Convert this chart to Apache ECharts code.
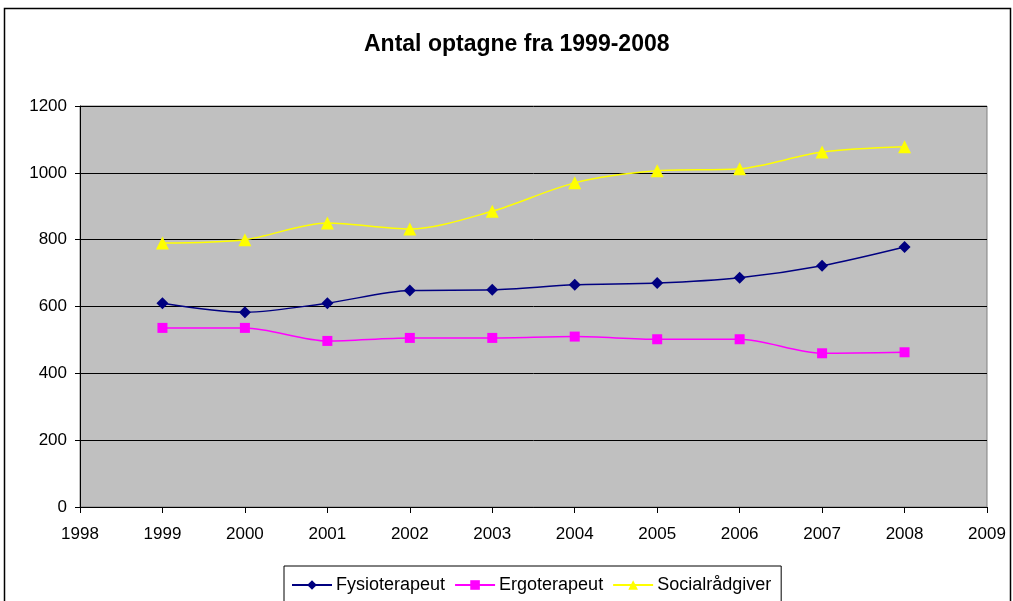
<!DOCTYPE html>
<html><head><meta charset="utf-8">
<script src="https://cdn.jsdelivr.net/npm/echarts@6/dist/echarts.min.js"></script>
<style>html,body{margin:0;padding:0;background:#fff}#c{width:1013px;height:601px}</style>
</head><body><div id="c"></div>
<script>
const years = [1999,2000,2001,2002,2003,2004,2005,2006,2007,2008];
const fysioterapeut = [610,583,610,648,650,665,670,686,722,778];
const ergoterapeut = [536,536,497,506,506,510,502,502,460,463];
const socialraadgiver = [790,800,850,832,885,970,1006,1012,1062,1078];
const seriesNames = ['Fysioterapeut','Ergoterapeut','Socialrådgiver'];

const pairs = arr => years.map((y,i)=>[y,arr[i]]);
const chart = echarts.init(document.getElementById('c'));
const font = 'Liberation Sans, Arial, sans-serif';
chart.setOption({
  animation:false,
  textStyle:{fontFamily:font},
  title:{text:'Antal optagne fra 1999-2008',left:364,top:33,padding:0,
    textStyle:{fontSize:23,fontWeight:'bold',color:'#000',fontFamily:font}},
  graphic:[{type:'rect',shape:{x:4.5,y:8.5,width:1006,height:600},style:{fill:'none',stroke:'#000',lineWidth:1.5},silent:true}],
  grid:{left:80,right:26,top:106,bottom:94,show:true,backgroundColor:'#c0c0c0',borderColor:'#808080',borderWidth:1},
  xAxis:{type:'value',min:1998,max:2009,interval:1,
    axisLine:{show:true,lineStyle:{color:'#000',width:1}},
    axisTick:{show:true,length:6,lineStyle:{color:'#000'}},
    splitLine:{show:false},
    axisLabel:{color:'#000',fontSize:17,margin:19,fontFamily:font,formatter:v=>String(v)}},
  yAxis:{type:'value',min:0,max:1200,interval:200,
    axisLine:{show:true,lineStyle:{color:'#000',width:1}},
    axisTick:{show:true,length:5,lineStyle:{color:'#000'}},
    splitLine:{show:true,lineStyle:{color:'#000',width:1}},
    axisLabel:{color:'#000',fontSize:17,margin:13,fontFamily:font,formatter:v=>String(v)}},
  legend:{top:566,left:284,orient:'horizontal',
    backgroundColor:'#fff',borderColor:'#000',borderWidth:1,padding:[10,10,10,7],
    itemWidth:40,itemHeight:12,itemGap:9,
    textStyle:{fontSize:18,color:'#000',fontFamily:font,padding:[0,0,0,-1]},
    data:seriesNames},
  series:[
    {name:seriesNames[0],type:'line',data:pairs(fysioterapeut),smooth:0.3,
      symbol:'diamond',symbolSize:12,
      lineStyle:{color:'#000080',width:1.5},itemStyle:{color:'#000080'}},
    {name:seriesNames[1],type:'line',data:pairs(ergoterapeut),smooth:0.3,
      symbol:'rect',symbolSize:10,
      lineStyle:{color:'#ff00ff',width:1.5},itemStyle:{color:'#ff00ff'}},
    {name:seriesNames[2],type:'line',data:pairs(socialraadgiver),smooth:0.3,
      symbol:'triangle',symbolSize:13,
      lineStyle:{color:'#ffff00',width:1.5},itemStyle:{color:'#ffff00'}}
  ]
});
</script></body></html>
